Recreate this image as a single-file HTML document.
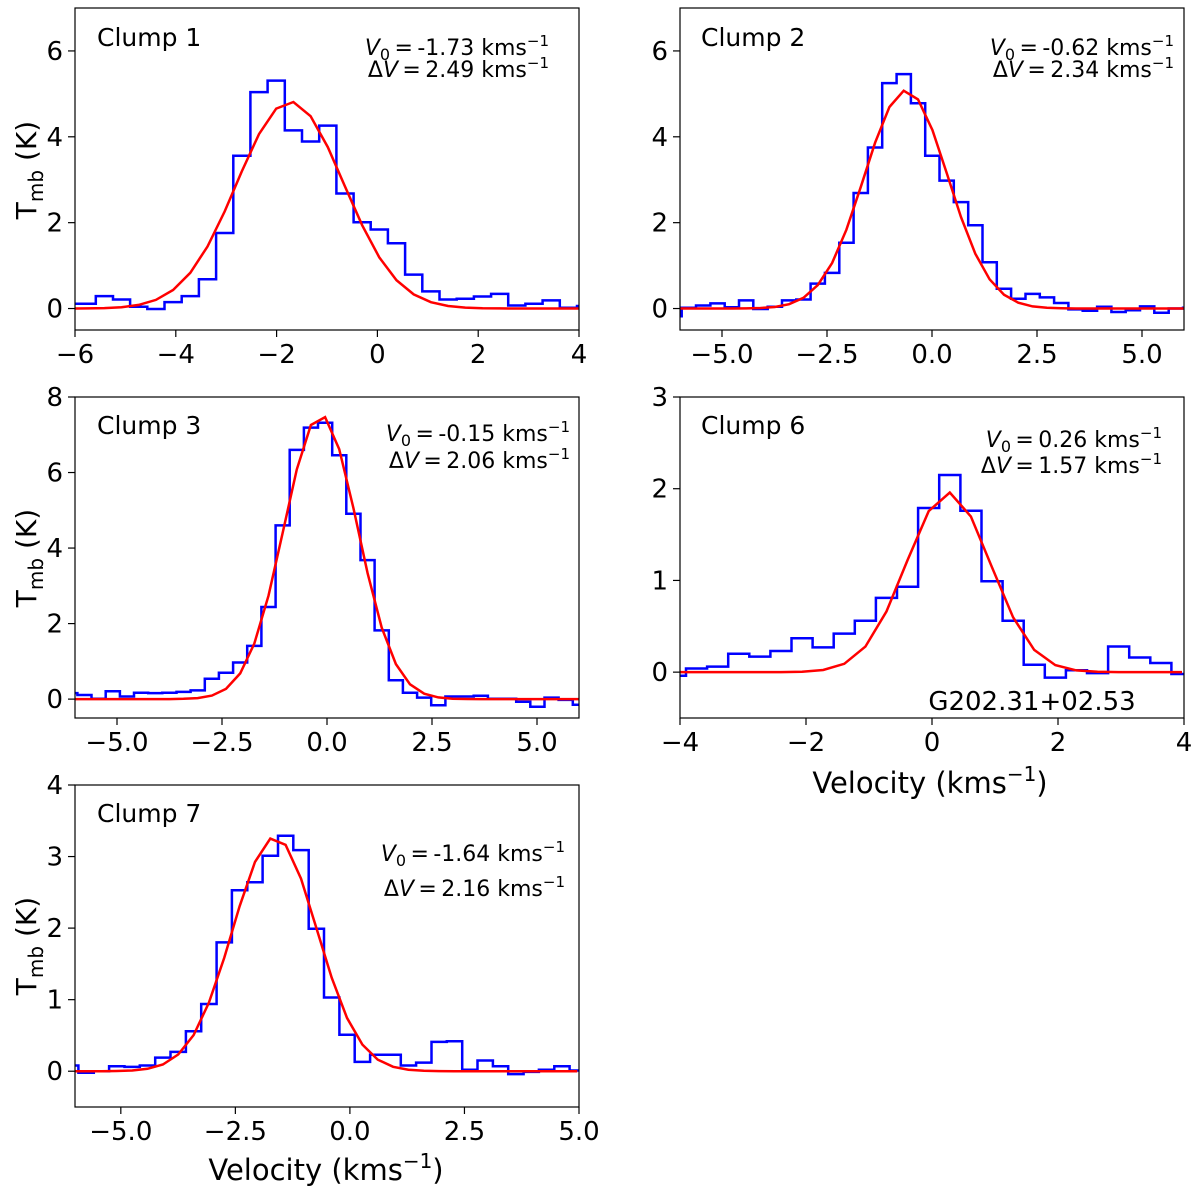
<!DOCTYPE html>
<html><head><meta charset="utf-8"><style>
body{margin:0;background:#fff}
svg text{font-family:"DejaVu Sans","Liberation Sans",sans-serif;fill:#000}
</style></head><body>
<svg id="fig" width="1200" height="1193" viewBox="0 0 1200 1193" xmlns="http://www.w3.org/2000/svg"></svg>
<script>
// Clump 1
const c1Start = -6.27, c1Width = 0.341;
const c1Values = [0.11,0.11,0.29,0.21,0.04,-0.01,0.15,0.29,0.68,1.76,3.56,5.04,5.31,4.15,3.89,4.26,2.68,2.01,1.84,1.52,0.79,0.40,0.21,0.23,0.28,0.34,0.07,0.11,0.19,0.02,0.06];
const c1Fit = [4.82,-1.73,2.49];
// Clump 2
const c2Start = -6.30, c2Width = 0.341;
const c2Values = [-0.18,0.02,0.07,0.12,0.03,0.19,-0.01,0.04,0.19,0.21,0.58,0.83,1.53,2.69,3.75,5.25,5.46,4.78,3.56,2.98,2.48,1.94,1.08,0.46,0.23,0.34,0.26,0.13,-0.02,-0.05,0.04,-0.08,-0.04,0.05,-0.10,0.00,0.02];
const c2Fit = [5.08,-0.62,2.34];
// Clump 3
const c3Start = -6.28, c3Width = 0.337;
const c3Values = [0.16,0.11,0.01,0.21,0.07,0.17,0.16,0.17,0.19,0.23,0.54,0.70,0.97,1.41,2.44,4.60,6.60,7.19,7.32,6.46,4.91,3.68,1.82,0.50,0.17,0.04,-0.16,0.07,0.07,0.09,0.01,0.01,-0.07,-0.20,0.04,-0.02,-0.15];
const c3Fit = [7.52,-0.15,2.06];
// Clump 6
const c6Start = -4.24, c6Width = 0.335;
const c6Values = [-0.04,0.04,0.06,0.20,0.17,0.23,0.37,0.27,0.42,0.56,0.81,0.93,1.79,2.15,1.76,0.99,0.56,0.08,-0.06,0.02,-0.01,0.28,0.16,0.10,-0.02];
const c6Fit = [1.96,0.26,1.57];
// Clump 7
const c7Start = -6.26, c7Width = 0.335;
const c7Values = [0.08,-0.02,0.0,0.07,0.06,0.08,0.19,0.27,0.56,0.94,1.80,2.53,2.64,3.01,3.29,3.09,1.99,1.03,0.51,0.13,0.23,0.23,0.08,0.12,0.41,0.42,0.02,0.15,0.07,-0.04,-0.01,0.02,0.07,0.01];
const c7Fit = [3.27,-1.64,2.16];

const NS="http://www.w3.org/2000/svg";
const svg=document.getElementById('fig');
function mk(tag,attrs,parent){const e=document.createElementNS(NS,tag);for(const k in attrs)e.setAttribute(k,attrs[k]);(parent||svg).appendChild(e);return e;}
function fmt(v,dec){let s=v.toFixed(dec);return s.replace('-','\u2212');}

let clipId=0;
function panel(cfg){
  const {x0,x1,y0,y1,xmin,xmax,ymin,ymax,xticks,xdec,yticks,start,width,values,fit,name}=cfg;
  const g=mk('g',{});
  
  
  const sx=v=>x0+(v-xmin)/(xmax-xmin)*(x1-x0);
  const sy=v=>y1-(v-ymin)/(ymax-ymin)*(y1-y0);
  clipId++;
  const cp=mk('clipPath',{id:'cp'+clipId},g);
  mk('rect',{x:x0,y:y0,width:x1-x0,height:y1-y0},cp);
  let d='';
  values.forEach((v,i)=>{const a=sx(start+i*width),b=sx(start+(i+1)*width),y=sy(v);d+=(i?'L':'M')+a.toFixed(1)+','+y.toFixed(1)+'L'+b.toFixed(1)+','+y.toFixed(1);});
  const st=mk('path',{d:d,fill:'none',stroke:'#0000ff','stroke-width':2.5,'clip-path':'url(#cp'+clipId+')'},g);
  
  
  const sig=fit[2]/2.3548;
  let f='';
  values.forEach((v,i)=>{const c=start+(i+0.5)*width;const t=fit[0]*Math.exp(-0.5*Math.pow((c-fit[1])/sig,2));f+=(i?'L':'M')+sx(c).toFixed(1)+','+sy(t).toFixed(1);});
  const fl=mk('path',{d:f,fill:'none',stroke:'#ff0000','stroke-width':2.5,'clip-path':'url(#cp'+clipId+')'},g);
  
  
  const fr=mk('rect',{x:x0,y:y0,width:x1-x0,height:y1-y0,fill:'none',stroke:'#000','stroke-width':1.2},g);
  
  
  xticks.forEach(t=>{const x=sx(t);mk('line',{x1:x,x2:x,y1:y1,y2:y1+7,stroke:'#000','stroke-width':1.2},g);
    const tx=mk('text',{x:x,y:y1+33,'text-anchor':'middle','font-size':26},g);tx.textContent=fmt(t,xdec);
    
    });
  yticks.forEach(t=>{const y=sy(t);mk('line',{x1:x0-7,x2:x0,y1:y,y2:y,stroke:'#000','stroke-width':1.2},g);
    const tx=mk('text',{x:x0-12,y:y+9,'text-anchor':'end','font-size':26},g);tx.textContent=fmt(t,0);
    
    });
  return g;
}
function label(x,y,html,size,anchor,nm){const t=mk('text',{x:x,y:y,'font-size':size,'text-anchor':anchor||'start'});t.innerHTML=html;
  
  return t;}
function ann(xr,y,gap,v0,dv,nm){
  label(xr,y,'<tspan font-style="italic">V</tspan><tspan font-size="16" dy="5">0</tspan><tspan dy="-5">\u2009=\u2009'+v0+' kms</tspan><tspan font-size="15" dy="-9">\u22121</tspan>',22,'end',nm+'-v0');
  label(xr,y+gap,'\u0394<tspan font-style="italic">V</tspan>\u2009=\u2009'+dv+' kms<tspan font-size="15" dy="-9">\u22121</tspan>',22,'end',nm+'-dv');
}
function ylab(x,y,nm){const t=mk('text',{x:0,y:0,'font-size':28,'text-anchor':'middle',transform:'translate('+x+','+y+') rotate(-90)'});
  t.innerHTML='T<tspan font-size="20" dy="7">mb</tspan><tspan dy="-7"> (K)</tspan>';
  
  }
function xlab(x,y,nm){label(x,y,'Velocity (kms<tspan font-size="20" dy="-12">\u22121</tspan><tspan dy="12">)</tspan>',29,'middle',nm);}

panel({x0:75,x1:579,y0:8,y1:330,xmin:-6,xmax:4,ymin:-0.5,ymax:7,xticks:[-6,-4,-2,0,2,4],xdec:0,yticks:[0,2,4,6],start:c1Start,width:c1Width,values:c1Values,fit:c1Fit,name:'clump-1'});
panel({x0:680,x1:1184,y0:8,y1:330,xmin:-6,xmax:6,ymin:-0.5,ymax:7,xticks:[-5,-2.5,0,2.5,5],xdec:1,yticks:[0,2,4,6],start:c2Start,width:c2Width,values:c2Values,fit:c2Fit,name:'clump-2'});
panel({x0:75,x1:579,y0:397,y1:718,xmin:-6,xmax:6,ymin:-0.5,ymax:8,xticks:[-5,-2.5,0,2.5,5],xdec:1,yticks:[0,2,4,6,8],start:c3Start,width:c3Width,values:c3Values,fit:c3Fit,name:'clump-3'});
panel({x0:680,x1:1184,y0:397,y1:718,xmin:-4,xmax:4,ymin:-0.5,ymax:3,xticks:[-4,-2,0,2,4],xdec:0,yticks:[0,1,2,3],start:c6Start,width:c6Width,values:c6Values,fit:c6Fit,name:'clump-6'});
panel({x0:75,x1:579,y0:785,y1:1107,xmin:-6,xmax:5,ymin:-0.5,ymax:4,xticks:[-5,-2.5,0,2.5,5],xdec:1,yticks:[0,1,2,3,4],start:c7Start,width:c7Width,values:c7Values,fit:c7Fit,name:'clump-7'});

label(97,46,'Clump 1',25,'start','clump-1-title');
label(701,46,'Clump 2',25,'start','clump-2-title');
label(97,434,'Clump 3',25,'start','clump-3-title');
label(701,434,'Clump 6',25,'start','clump-6-title');
label(97,822,'Clump 7',25,'start','clump-7-title');
ann(549,55,22,'-1.73','2.49','clump-1');
ann(1174,55,22,'-0.62','2.34','clump-2');
ann(570,441,27,'-0.15','2.06','clump-3');
ann(1162,447,26,'0.26','1.57','clump-6');
ann(565,861,35,'-1.64','2.16','clump-7');
label(1032,710,'G202.31+02.53',26,'middle','source-name');
ylab(36,170,'y-axis-title-1');
ylab(36,558,'y-axis-title-3');
ylab(36,946,'y-axis-title-7');
xlab(930,793,'x-axis-title-6');
xlab(326,1180,'x-axis-title-7');
</script>
</body></html>
